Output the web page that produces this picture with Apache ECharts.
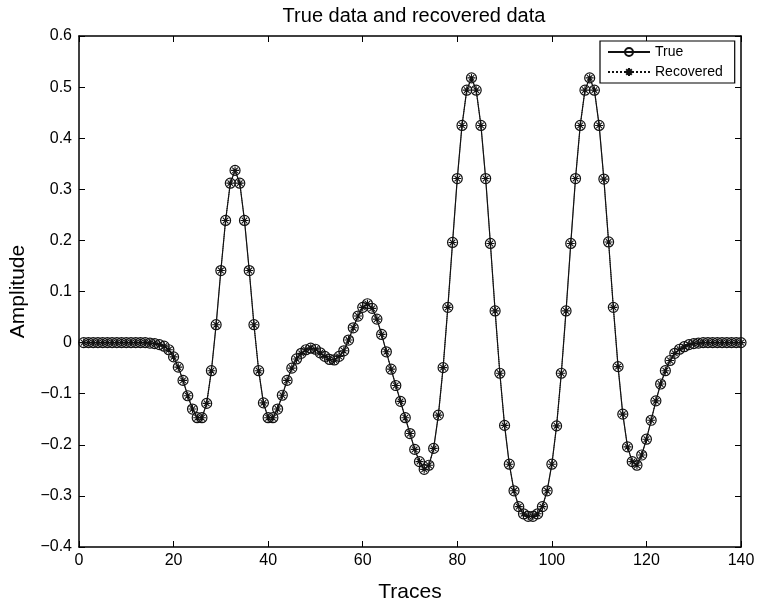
<!DOCTYPE html>
<html>
<head>
<meta charset="utf-8">
<script src="https://cdn.jsdelivr.net/npm/echarts@6/dist/echarts.min.js"></script>
<style>
  html, body { margin: 0; padding: 0; background: #fff; }
  #chart { width: 763px; height: 609px; }
</style>
</head>
<body>
<div id="chart"></div>
<script>
// Trace numbers along the horizontal axis
const traces = [
  1,2,3,4,5,6,7,8,9,10,11,12,13,14,15,16,17,18,19,20,
  21,22,23,24,25,26,27,28,29,30,31,32,33,34,35,36,37,38,39,40,
  41,42,43,44,45,46,47,48,49,50,51,52,53,54,55,56,57,58,59,60,
  61,62,63,64,65,66,67,68,69,70,71,72,73,74,75,76,77,78,79,80,
  81,82,83,84,85,86,87,88,89,90,91,92,93,94,95,96,97,98,99,100,
  101,102,103,104,105,106,107,108,109,110,111,112,113,114,115,116,117,118,119,120,
  121,122,123,124,125,126,127,128,129,130,131,132,133,134,135,136,137,138,139,140
];

// True amplitudes per trace
const trueAmp = [
  0,0,0,0,0,0,0,0,0,0,0,0,0,0,-0.001,-0.002,-0.004,-0.007,-0.014,-0.028,
  -0.048,-0.074,-0.104,-0.130,-0.147,-0.147,-0.119,-0.055,0.035,0.141,0.239,0.312,0.337,0.312,0.239,0.141,0.035,-0.055,-0.118,-0.147,
  -0.147,-0.130,-0.103,-0.074,-0.050,-0.032,-0.021,-0.014,-0.011,-0.013,-0.020,-0.027,-0.033,-0.034,-0.027,-0.016,0.005,0.029,0.052,0.069,
  0.076,0.067,0.046,0.016,-0.018,-0.052,-0.084,-0.115,-0.147,-0.178,-0.209,-0.233,-0.248,-0.240,-0.207,-0.142,-0.049,0.069,0.196,0.321,
  0.425,0.494,0.518,0.494,0.425,0.321,0.194,0.062,-0.060,-0.162,-0.238,-0.290,-0.321,-0.335,-0.340,-0.340,-0.335,-0.321,-0.290,-0.238,
  -0.163,-0.060,0.062,0.194,0.321,0.425,0.494,0.518,0.494,0.425,0.320,0.197,0.069,-0.047,-0.140,-0.204,-0.233,-0.240,-0.220,-0.189,
  -0.152,-0.114,-0.081,-0.055,-0.035,-0.021,-0.013,-0.008,-0.004,-0.002,-0.001,0,0,0,0,0,0,0,0,0
];

// Recovered amplitudes per trace
const recoveredAmp = [
  0,0,0,0,0,0,0,0,0,0,0,0,0,0,-0.001,-0.002,-0.004,-0.007,-0.014,-0.028,
  -0.048,-0.074,-0.104,-0.130,-0.147,-0.147,-0.119,-0.055,0.035,0.141,0.239,0.312,0.337,0.312,0.239,0.141,0.035,-0.055,-0.118,-0.147,
  -0.147,-0.130,-0.103,-0.074,-0.050,-0.032,-0.021,-0.014,-0.011,-0.013,-0.020,-0.027,-0.033,-0.034,-0.027,-0.016,0.005,0.029,0.052,0.069,
  0.076,0.067,0.046,0.016,-0.018,-0.052,-0.084,-0.115,-0.147,-0.178,-0.209,-0.233,-0.248,-0.240,-0.207,-0.142,-0.049,0.069,0.196,0.321,
  0.425,0.494,0.518,0.494,0.425,0.321,0.194,0.062,-0.060,-0.162,-0.238,-0.290,-0.321,-0.335,-0.340,-0.340,-0.335,-0.321,-0.290,-0.238,
  -0.163,-0.060,0.062,0.194,0.321,0.425,0.494,0.518,0.494,0.425,0.320,0.197,0.069,-0.047,-0.140,-0.204,-0.233,-0.240,-0.220,-0.189,
  -0.152,-0.114,-0.081,-0.055,-0.035,-0.021,-0.013,-0.008,-0.004,-0.002,-0.001,0,0,0,0,0,0,0,0,0
];

const seriesNames = ['True', 'Recovered'];
const titleText = 'True data and recovered data';
const xName = 'Traces';
const yName = 'Amplitude';

const FONT = '"Liberation Sans", Arial, Helvetica, sans-serif';
// eight-spoke star marker
const asterisk = 'path://M0,-10L0,10M-10,0L10,0M-7,-7L7,7M-7,7L7,-7';

function pairs(ys) { return traces.map((t, i) => [t, ys[i]]); }
function fmtY(v) {
  const r = Math.round(v * 10) / 10;
  if (r === 0) return '0';
  return r.toFixed(1).replace('-', '\u2212');
}

const chart = echarts.init(document.getElementById('chart'), null, { renderer: 'canvas' });

const tickStyle = { show: true, inside: true, length: 6, lineStyle: { color: '#000', width: 1 } };
const lineStyleAxis = { show: true, onZero: false, lineStyle: { color: '#000', width: 1.5 } };

chart.setOption({
  animation: false,
  backgroundColor: '#fff',
  title: {
    text: titleText,
    left: 409, top: 1, textAlign: 'center',
    textStyle: { fontFamily: FONT, fontSize: 20, fontWeight: 'normal', color: '#000' }
  },
  grid: { left: 77, right: 22, top: 36, bottom: 62, containLabel: false },
  legend: {
    data: seriesNames,
    orient: 'vertical',
    left: 600, top: 41,
    backgroundColor: '#fff',
    borderColor: '#000', borderWidth: 1.2,
    padding: [4, 12, 4, 7],
    itemWidth: 42, itemHeight: 10, itemGap: 6,
    textStyle: { fontFamily: FONT, fontSize: 14, color: '#000' }
  },
  xAxis: [{
    type: 'value', min: 0, max: 140, interval: 20,
    name: xName, nameLocation: 'middle', nameGap: 35,
    nameTextStyle: { fontFamily: FONT, fontSize: 21, color: '#000' },
    axisLine: lineStyleAxis, axisTick: tickStyle, splitLine: { show: false },
    axisLabel: { fontFamily: FONT, fontSize: 16, color: '#000', margin: 6 }
  }, {
    type: 'value', min: 0, max: 140, interval: 20, position: 'top',
    axisLine: lineStyleAxis, axisTick: tickStyle, splitLine: { show: false },
    axisLabel: { show: false }
  }],
  yAxis: [{
    type: 'value', min: -0.4, max: 0.6, interval: 0.1,
    name: yName, nameLocation: 'middle', nameGap: 50, nameRotate: 90,
    nameTextStyle: { fontFamily: FONT, fontSize: 21, color: '#000' },
    axisLine: lineStyleAxis, axisTick: tickStyle, splitLine: { show: false },
    axisLabel: { fontFamily: FONT, fontSize: 16, color: '#000', margin: 7, formatter: fmtY }
  }, {
    type: 'value', min: -0.4, max: 0.6, interval: 0.1, position: 'right',
    axisLine: lineStyleAxis, axisTick: tickStyle, splitLine: { show: false },
    axisLabel: { show: false }
  }],
  series: [{
    name: seriesNames[0],
    type: 'line',
    data: pairs(trueAmp),
    symbol: 'circle', symbolSize: 10,
    itemStyle: { color: 'rgba(0,0,0,0)', borderColor: '#111', borderWidth: 1.2 },
    lineStyle: { color: '#111', width: 1.2 },
    emphasis: { disabled: true }
  }, {
    name: seriesNames[1],
    type: 'line',
    data: pairs(recoveredAmp),
    symbol: asterisk, symbolSize: 8,
    itemStyle: { color: 'rgba(0,0,0,0)', borderColor: '#111', borderWidth: 1.1 },
    lineStyle: { color: '#111', width: 1, type: 'dotted' },
    emphasis: { disabled: true }
  }]
});
</script>
</body>
</html>
